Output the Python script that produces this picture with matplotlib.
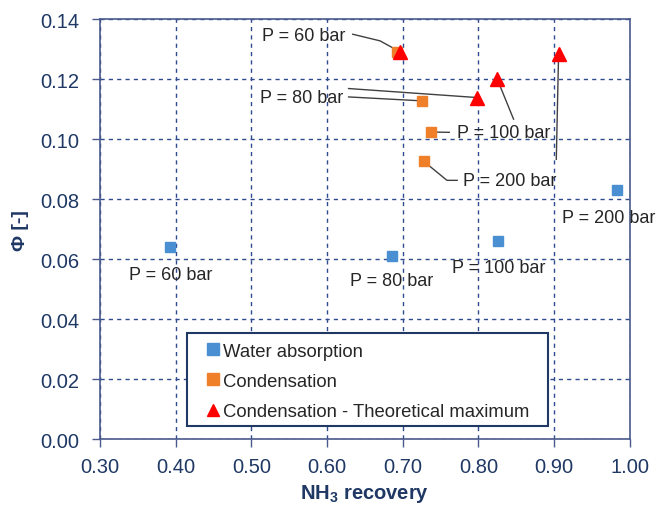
import matplotlib.pyplot as plt
import matplotlib.patches as mpatches
import numpy as np

plt.rcParams['font.family'] = ['Liberation Sans', 'DejaVu Sans']
plt.rcParams['mathtext.fontset'] = 'custom'
plt.rcParams['mathtext.rm'] = 'Liberation Sans'
plt.rcParams['mathtext.bf'] = 'Liberation Sans:bold'

# NH3 recovery / Phi for each pressure (60, 80, 100, 200 bar)
pressures = [60, 80, 100, 200]
water_x = [0.393, 0.686, 0.826, 0.983]
water_y = [0.064, 0.061, 0.066, 0.083]
cond_x = [0.693, 0.725, 0.738, 0.728]
cond_y = [0.129, 0.1128, 0.1024, 0.0926]
theo_x = [0.696, 0.798, 0.825, 0.906]
theo_y = [0.1292, 0.1139, 0.1200, 0.1283]

navy = '#1F3864'
grid_c = '#2F4A8E'
spine_c = '#4A5A8C'
txt_c = '#262626'
fs = 13

fig = plt.figure(figsize=(6.58, 5.06), dpi=100)
ax = fig.add_subplot(111)
fig.subplots_adjust(left=0.152, right=0.957, top=0.960, bottom=0.130)

ax.plot(water_x, water_y, 's', color='#4A8FD2', ms=7.2, ls='none', label='Water absorption', zorder=3)
ax.plot(cond_x, cond_y, 's', color='#F07F2A', ms=7.2, ls='none', label='Condensation', zorder=3)
ax.plot(theo_x, theo_y, '^', color='#FF0000', ms=9.5, ls='none',
        label='Condensation - Theoretical maximum', zorder=4)

ax.set_xlim(0.30, 1.00)
ax.set_ylim(0.00, 0.14)
ax.set_xticks(np.arange(0.30, 1.001, 0.10))
ax.set_yticks(np.arange(0.00, 0.141, 0.02))
ax.xaxis.set_major_formatter(plt.FormatStrFormatter('%.2f'))
ax.yaxis.set_major_formatter(plt.FormatStrFormatter('%.2f'))
ax.tick_params(colors=spine_c, labelcolor=navy, labelsize=14.5, length=6, width=1)
ax.tick_params(axis='y', pad=9)
ax.tick_params(axis='x', pad=7)
ax.grid(True, ls=(0, (3, 3)), color=grid_c, lw=1)
ax.set_axisbelow(True)
for s in ax.spines.values():
    s.set_color(spine_c)
    s.set_linewidth(1.2)

ax.set_xlabel(r'NH$_\mathbf{3}$ recovery', fontsize=14.5, fontweight='bold', color=navy, labelpad=4)
ax.set_ylabel('Φ [-]', fontsize=14, fontweight='bold', color=navy, labelpad=8)

lk = dict(color='#404040', lw=1, zorder=2, clip_on=False)
tk = dict(fontsize=fs, color=txt_c, va='center', ha='left', clip_on=False)

# labels of the theoretical maximum / condensation points with leader lines
ax.text(0.514, 0.1347, 'P = 60 bar', **tk)
ax.plot([0.634, 0.670, theo_x[0]], [0.135, 0.1328, theo_y[0]], **lk)

ax.text(0.512, 0.1140, 'P = 80 bar', **tk)
ax.plot([0.6285, theo_x[1]], [0.1169, theo_y[1]], **lk)
ax.plot([0.6285, cond_x[1]], [0.1141, cond_y[1]], **lk)

ax.text(0.772, 0.1022, 'P = 100 bar', **tk)
ax.plot([0.7616, cond_x[2]], [0.1023, cond_y[2]], **lk)
ax.plot([0.8465, theo_x[2]], [0.1067, theo_y[2]], **lk)

ax.text(0.780, 0.0861, 'P = 200 bar', **tk)
ax.plot([cond_x[3], 0.7585, 0.772], [cond_y[3], 0.0863, 0.0863], **lk)
ax.plot([0.903, theo_x[3]], [0.0933, theo_y[3]], **lk)

# water absorption labels
wl_x = [0.338, 0.631, 0.765, 0.910]
wl_y = [0.0550, 0.0528, 0.0574, 0.0739]
for p, lx, ly in zip(pressures, wl_x, wl_y):
    ax.text(lx, ly, f'P = {p} bar', **tk)

# legend box drawn separately so the entries can sit inset from its left edge
box = mpatches.Rectangle((0.165, 0.032), 0.681, 0.220, transform=ax.transAxes,
                         facecolor='white', edgecolor=navy, lw=1.5, zorder=5)
ax.add_patch(box)
leg = ax.legend(loc='upper left', bbox_to_anchor=(0.203, 0.230), frameon=False,
                fontsize=13.3, handlelength=0.6, handletextpad=0.25, labelspacing=0.72,
                borderpad=0, borderaxespad=0)
leg.set_zorder(6)
for t in leg.get_texts():
    t.set_color(txt_c)
for h, ms in zip(leg.legend_handles, [8, 8, 9]):
    h.set_markersize(ms)

fig.savefig('out.png', dpi=100)
